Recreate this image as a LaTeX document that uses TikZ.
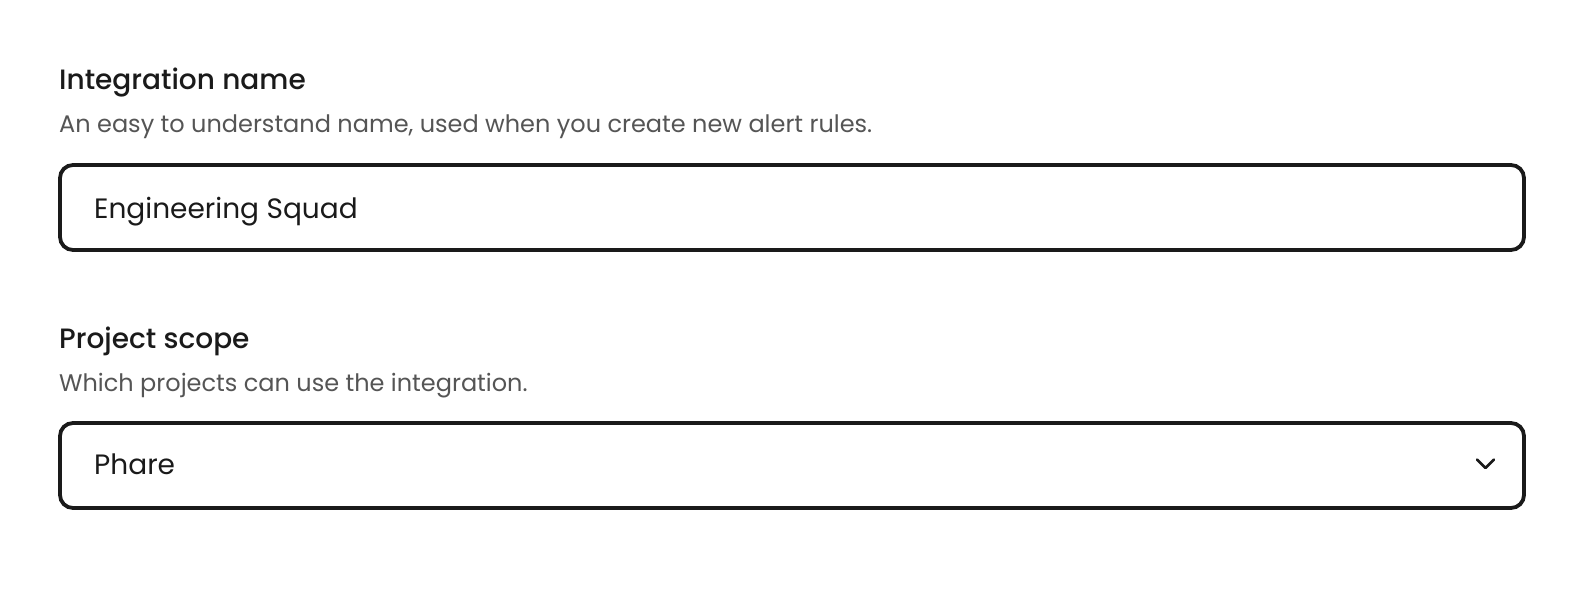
\documentclass[tikz,border=0pt]{standalone}
\usepackage{fontspec}
\setmainfont{Poppins}
\newfontfamily\pmed{Poppins Medium}
\definecolor{ink}{HTML}{1A1A1A}
\definecolor{sub}{HTML}{555555}
\begin{document}
\begin{tikzpicture}[x=1pt,y=1pt,
  title/.style={anchor=base west,inner sep=0pt,text=ink,font=\pmed\fontsize{28}{34}\selectfont},
  subtitle/.style={anchor=base west,inner sep=0pt,text=sub,font=\fontsize{24}{30}\selectfont},
  value/.style={anchor=base west,inner sep=0pt,text=ink,font=\fontsize{28}{34}\selectfont},
  field/.style={draw=ink,line width=3.8pt,rounded corners=13pt,minimum width=1464pt,minimum height=85pt,inner sep=0pt}]
\fill[white] (0,0) rectangle (1580,-590);
\useasboundingbox (0,0) rectangle (1580,-590);
\node[title] (t1) at (59,-89) {Integration name};
\node[subtitle] (s1) at (59,-132) {An easy to understand name, used when you create new alert rules.};
\node[field] (b1) at (792,-207.5) {};
\node[value] (v1) at (94,-218) {Engineering Squad};
\node[title] (t2) at (59,-348) {Project scope};
\node[subtitle] (s2) at (59,-391) {Which projects can use the integration.};
\node[field] (b2) at (792,-465.5) {};
\node[value] (v2) at (94,-474) {Phare};
\coordinate (c1) at (1477,-459.5);
\coordinate (c2) at (1485.5,-468);
\coordinate (c3) at (1494,-459.5);
\draw[ink,line width=2.6pt,line cap=round,line join=round] (c1) -- (c2) -- (c3);
\end{tikzpicture}
\end{document}
